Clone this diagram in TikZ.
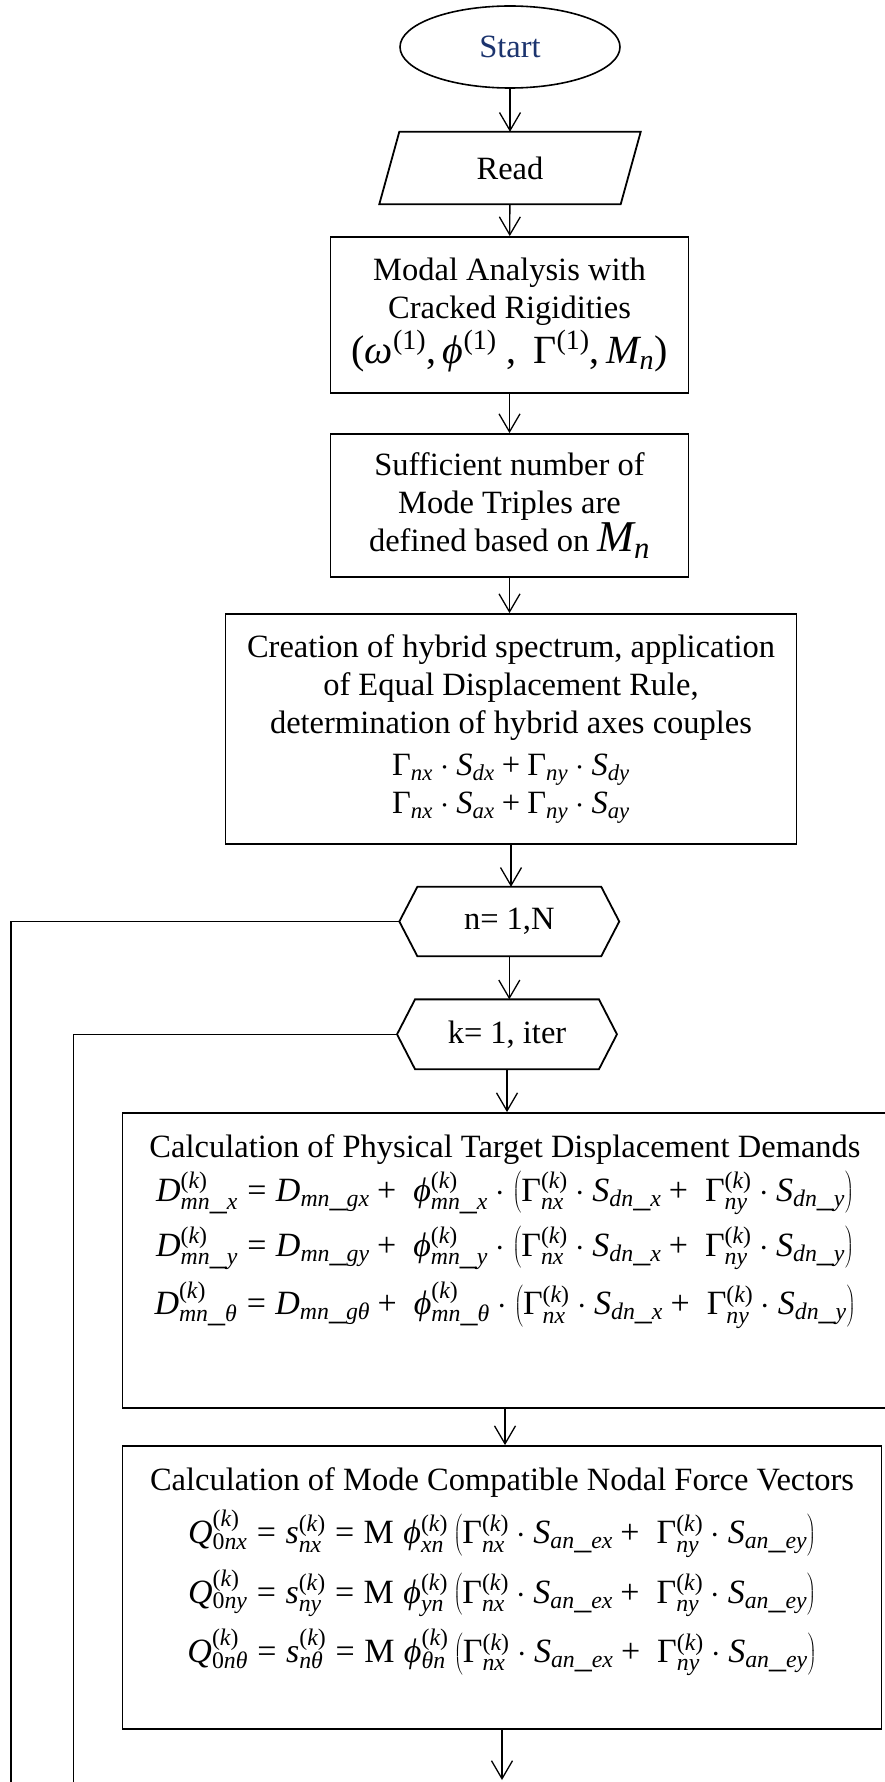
\RequirePackage{fix-cm}
\documentclass[tikz,border=0pt]{standalone}
\usepackage[no-math]{fontspec}
\setmainfont{Liberation Serif}
\newfontfamily\libser{Liberation Serif}[NFSSFamily=libser]
\DeclareSymbolFont{tmit}{TU}{libser}{m}{it}
\DeclareSymbolFont{tmup}{TU}{libser}{m}{n}
\newcount\mletter
\mletter=`A \loop \Umathcode\mletter=0 \symtmit\mletter \ifnum\mletter<`Z \advance\mletter 1 \repeat
\mletter=`a \loop \Umathcode\mletter=0 \symtmit\mletter \ifnum\mletter<`z \advance\mletter 1 \repeat
\mletter=`0 \loop \Umathcode\mletter=0 \symtmup\mletter \ifnum\mletter<`9 \advance\mletter 1 \repeat
\Umathcode`\==3 \symtmup`\=
\Umathcode`\+=2 \symtmup`\+
\Umathcode`\(=4 \symtmup`\(
\Umathcode`\)=5 \symtmup`\)
\Umathcode`\,=6 \symtmup`\,
\Umathchardef\omega=0 \symtmit"03C9
\Umathchardef\phi=0 \symtmit"03D5
\Umathchardef\theta=0 \symtmit"03B8
\Umathchardef\Gamma=0 \symtmup"0393
\usetikzlibrary{shapes.geometric,arrows.meta}
\definecolor{startblue}{RGB}{28,52,110}
\newcommand\eqsize{\fontsize{34}{40}\selectfont}
\tikzset{
  every node/.style={font=\fontsize{32.5}{38}\selectfont},
  box/.style={draw,line width=1.8pt,align=center,inner sep=0pt},
  arr/.style={line width=1.3pt,-{Straight Barb[length=18pt,width=21pt]}},
  loopline/.style={line width=1.6pt}
}
\begin{document}
\begin{tikzpicture}[x=1pt,y=1pt]
\useasboundingbox (0,0) rectangle (885,-1782);

\node[ellipse,draw,line width=1.6pt,minimum width=220,minimum height=82,text=startblue] (start) at (510,-47) {Start};
\node[minimum width=241,minimum height=72] (read) at (510,-168) {Read};
\draw[line width=1.8pt] ([xshift=10]read.north west) -- ([xshift=10]read.north east) -- ([xshift=-10]read.south east) -- ([xshift=-10]read.south west) -- cycle;

\node[box,minimum width=358,minimum height=156] (modal) at (509.5,-315) {Modal Analysis with\\Cracked Rigidities\\[4pt]{\fontsize{40}{40}\selectfont$(\omega^{(1)},\phi^{(1)}\ ,\ \Gamma^{(1)},M_n)$}};
\node[box,minimum width=358,minimum height=143] (suff) at (509.5,-505.5) {Sufficient number of\\Mode Triples are\\defined based on {\fontsize{44}{44}\selectfont$M_n$}};
\node[box,minimum width=571,minimum height=230] (create) at (511,-729) {Creation of hybrid spectrum, application\\of Equal Displacement Rule,\\determination of hybrid axes couples\\[4pt]$\Gamma_{nx}\cdot S_{dx}+\Gamma_{ny}\cdot S_{dy}$\\$\Gamma_{nx}\cdot S_{ax}+\Gamma_{ny}\cdot S_{ay}$};

\node[minimum width=219.5,minimum height=69] (nloop) at (509.3,-921.5) {n= 1,N};
\draw[line width=1.8pt] (nloop.west) -- ([xshift=18]nloop.north west) -- ([xshift=-18]nloop.north east) -- (nloop.east) -- ([xshift=-18]nloop.south east) -- ([xshift=18]nloop.south west) -- cycle;
\node[minimum width=219.5,minimum height=69.5] (kloop) at (507,-1034.3) {k= 1, iter};
\draw[line width=1.8pt] (kloop.west) -- ([xshift=18]kloop.north west) -- ([xshift=-18]kloop.north east) -- (kloop.east) -- ([xshift=-18]kloop.south east) -- ([xshift=18]kloop.south west) -- cycle;

\node[box,minimum width=765,minimum height=295] (phys) at (505,-1260.5) {Calculation of Physical Target Displacement Demands\\[6pt]
{\eqsize$D^{(k)}_{mn\_x}=D_{mn\_gx}+\;\phi^{(k)}_{mn\_x}\cdot\left(\Gamma^{(k)}_{nx}\cdot S_{dn\_x}+\;\Gamma^{(k)}_{ny}\cdot S_{dn\_y}\right)$}\\[11pt]
{\eqsize$D^{(k)}_{mn\_y}=D_{mn\_gy}+\;\phi^{(k)}_{mn\_y}\cdot\left(\Gamma^{(k)}_{nx}\cdot S_{dn\_x}+\;\Gamma^{(k)}_{ny}\cdot S_{dn\_y}\right)$}\\[11pt]
{\eqsize$D^{(k)}_{mn\_\theta}=D_{mn\_g\theta}+\;\phi^{(k)}_{mn\_\theta}\cdot\left(\Gamma^{(k)}_{nx}\cdot S_{dn\_x}+\;\Gamma^{(k)}_{ny}\cdot S_{dn\_y}\right)$}\\[34pt]\mbox{}};
\node[box,minimum width=759,minimum height=283] (nodal) at (502,-1587.5) {Calculation of Mode Compatible Nodal Force Vectors\\[12pt]
{\eqsize$Q^{(k)}_{0nx}=s^{(k)}_{nx}=\mbox{M}\;\phi^{(k)}_{xn}\left(\Gamma^{(k)}_{nx}\cdot S_{an\_ex}+\;\Gamma^{(k)}_{ny}\cdot S_{an\_ey}\right)$}\\[11.5pt]
{\eqsize$Q^{(k)}_{0ny}=s^{(k)}_{ny}=\mbox{M}\;\phi^{(k)}_{yn}\left(\Gamma^{(k)}_{nx}\cdot S_{an\_ex}+\;\Gamma^{(k)}_{ny}\cdot S_{an\_ey}\right)$}\\[11.5pt]
{\eqsize$Q^{(k)}_{0n\theta}=s^{(k)}_{n\theta}=\mbox{M}\;\phi^{(k)}_{\theta n}\left(\Gamma^{(k)}_{nx}\cdot S_{an\_ex}+\;\Gamma^{(k)}_{ny}\cdot S_{an\_ey}\right)$}\\[7pt]\mbox{}};

\coordinate (nfoot) at (10.7,-1782);
\coordinate (kfoot) at (73.3,-1782);
\coordinate (out) at (502,-1780);

\draw[arr] (start) -- (read);
\draw[arr] (read) -- (modal);
\draw[arr] (modal) -- (suff);
\draw[arr] (suff.south) -- (suff.south |- create.north);
\draw[arr] (create.south) -- (create.south |- nloop.north);
\draw[arr] (nloop.south) -- (nloop.south |- kloop.north);
\draw[arr] (kloop.south) -- (kloop.south |- phys.north);
\draw[arr] (phys.south) -- (phys.south |- nodal.north);
\draw[arr] (nodal.south) -- (out);
\draw[loopline] (nloop.west) -| (nfoot);
\draw[loopline] (kloop.west) -| (kfoot);
\end{tikzpicture}
\end{document}
